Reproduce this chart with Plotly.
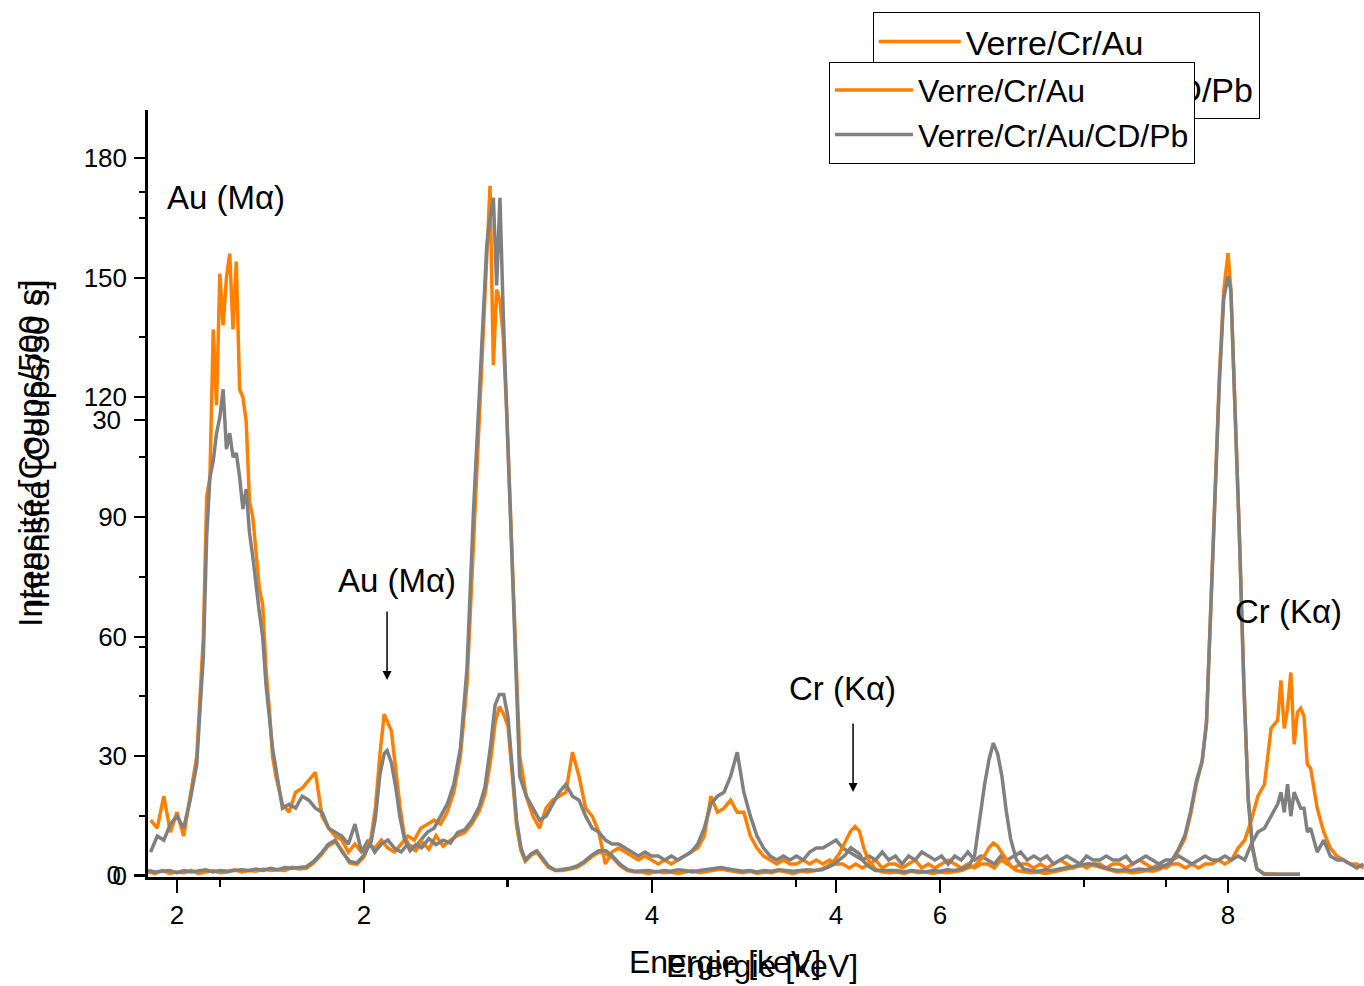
import plotly.graph_objects as go

# ---------------- data: spectrum 1 (x axis 1.9-5.6 keV, y 0-190) ----------------
h_energy = [1.92, 1.94, 1.96, 1.98, 2.00, 2.02, 2.04,
            2.06, 2.07, 2.08, 2.09, 2.10, 2.11, 2.12, 2.13, 2.14, 2.15, 2.16, 2.17, 2.18, 2.19, 2.20,
            2.21, 2.22, 2.23, 2.24, 2.25, 2.26, 2.27, 2.28, 2.29, 2.30,
            2.32, 2.34, 2.36, 2.38, 2.40, 2.42, 2.44, 2.46, 2.48, 2.50, 2.52, 2.54, 2.56, 2.58, 2.60, 2.62,
            2.64, 2.66, 2.68, 2.70, 2.72, 2.74, 2.76, 2.78, 2.80, 2.82, 2.84, 2.86, 2.88, 2.90, 2.92, 2.94,
            2.95, 2.96, 2.97, 2.98, 2.99, 3.00,
            3.02, 3.04, 3.06, 3.08, 3.10, 3.12, 3.14, 3.16, 3.18, 3.20,
            3.22, 3.24, 3.26, 3.28, 3.30, 3.32, 3.34, 3.36, 3.38, 3.40,
            3.42, 3.44, 3.46, 3.48, 3.50, 3.52, 3.54, 3.56, 3.58, 3.60,
            3.62, 3.64, 3.66, 3.68, 3.70, 3.72, 3.74, 3.76, 3.78, 3.80,
            3.82, 3.84, 3.86, 3.88, 3.90, 3.92, 3.94, 3.96, 3.98, 4.00,
            4.02, 4.04, 4.06, 4.08, 4.10, 4.12, 4.14, 4.16, 4.18, 4.20,
            4.22, 4.24, 4.26, 4.28, 4.30, 4.32, 4.34, 4.36, 4.38, 4.40,
            4.42, 4.44, 4.46, 4.48, 4.50, 4.52, 4.54, 4.56, 4.58, 4.60,
            4.62, 4.64, 4.66, 4.68, 4.70, 4.72, 4.74, 4.76, 4.78, 4.80,
            4.82, 4.84, 4.86, 4.88, 4.90, 4.92, 4.94, 4.96, 4.98, 5.00,
            5.02, 5.04, 5.06, 5.08, 5.10, 5.12, 5.14, 5.16, 5.18, 5.20,
            5.22, 5.24, 5.26, 5.28, 5.30, 5.32, 5.34,
            5.35, 5.36, 5.37, 5.38, 5.39, 5.40, 5.41, 5.42, 5.43, 5.44,
            5.46, 5.48, 5.50, 5.52, 5.54, 5.56, 5.58, 5.60]

h_orange = [14, 12, 20, 11, 16, 10, 20,
            30, 45, 60, 95, 100, 137, 118, 151, 138, 150, 156, 137, 154, 122, 120,
            114, 94, 90, 82, 72, 68, 52, 42, 30, 25,
            18, 16, 21, 22, 24, 26, 15, 12, 10, 9, 6, 8, 6, 8, 7, 9,
            7, 6, 8, 10, 9, 12, 13, 14, 13, 16, 21, 30, 48, 85, 122, 158,
            173, 128, 147, 144, 135, 117,
            72, 30, 20, 15, 12, 17, 19, 20, 21, 31,
            25, 17, 15, 11, 3, 6, 7, 6, 5, 4,
            5, 4, 3, 4, 3, 4, 5, 6, 7, 10,
            20, 16, 17, 19, 16, 16, 10, 7, 5, 4,
            3, 4, 3, 3, 4, 3, 4, 3, 4, 3,
            3, 2, 3, 2, 3, 4, 2, 3, 3, 2,
            3, 4, 2, 3, 2, 3, 4, 3, 2, 3,
            2, 3, 3, 2, 4, 3, 2, 3, 3, 2,
            3, 2, 3, 4, 3, 2, 3, 2, 3, 3,
            2, 3, 3, 2, 3, 4, 3, 2, 3, 2,
            3, 3, 2, 3, 2, 3, 3, 4, 3, 4,
            7, 9, 14, 20, 23, 37, 39,
            49, 37, 42, 51, 33, 41, 42, 40, 28, 27,
            17, 11, 7, 5, 4, 3, 3, 2]

h_gray = [6, 10, 9, 13, 15, 12, 19,
          28, 42, 55, 85, 100, 104, 111, 115, 122, 107, 111, 105, 106, 100, 92,
          97, 86, 80, 72, 66, 60, 48, 40, 32, 27,
          17, 18, 17, 20, 19, 17, 16, 12, 11, 10, 8, 13, 6, 9, 6, 8,
          9, 7, 6, 8, 7, 9, 11, 12, 15, 18, 23, 32, 52, 92, 125, 158,
          165, 170, 148, 170, 141, 117,
          70, 25, 20, 17, 14, 15, 18, 21, 23, 20,
          19, 15, 12, 11, 9, 8, 8, 7, 6, 5,
          6, 5, 5, 4, 5, 4, 5, 6, 8, 12,
          18, 20, 21, 25, 31, 21, 15, 10, 7, 5,
          4, 5, 4, 5, 4, 6, 7, 7, 8, 9,
          7, 6, 5, 4, 5, 4, 6, 4, 5, 3,
          5, 4, 6, 5, 4, 5, 3, 5, 4, 6,
          4, 5, 4, 3, 5, 4, 5, 6, 4, 5,
          4, 5, 3, 4, 5, 4, 3, 5, 4, 4,
          5, 4, 4, 5, 3, 4, 5, 4, 3, 4,
          4, 5, 4, 3, 4, 5, 4, 4, 5, 4,
          5, 4, 8, 11, 12, 15, 18,
          21, 16, 23, 15, 21, 19, 17, 17, 11, 12,
          6, 9, 5, 4, 4, 3, 2, 3]

# ---------------- data: spectrum 2 (x axis 0.5-8.9 keV, y 0-50) ----------------
l_energy = [0.50, 0.55, 0.60, 0.65, 0.70, 0.75, 0.80, 0.85, 0.90, 0.95, 1.00, 1.05,
            1.10, 1.15, 1.20, 1.25, 1.30, 1.35, 1.40, 1.45, 1.50, 1.55, 1.60,
            1.65, 1.70, 1.75, 1.80, 1.85, 1.90, 1.95, 2.00,
            2.05, 2.08, 2.11, 2.14, 2.16, 2.19, 2.22, 2.25, 2.28,
            2.32, 2.36, 2.40, 2.45, 2.50, 2.55, 2.60, 2.65, 2.70, 2.75, 2.80,
            2.84, 2.88, 2.91, 2.94, 2.97, 3.00, 3.03, 3.06, 3.09, 3.12,
            3.16, 3.20, 3.24, 3.28, 3.33, 3.38, 3.43, 3.48, 3.53, 3.58,
            3.63, 3.68, 3.73, 3.78, 3.83, 3.88,
            3.93, 3.98, 4.03, 4.08, 4.13, 4.18, 4.23, 4.28, 4.33, 4.38, 4.43, 4.48, 4.53,
            4.58, 4.63, 4.68, 4.73, 4.78, 4.83, 4.88, 4.93, 4.98, 5.03, 5.08, 5.13,
            5.18, 5.22, 5.26, 5.30, 5.34, 5.38, 5.41, 5.44, 5.47, 5.50, 5.55, 5.60,
            5.65, 5.70, 5.75, 5.80, 5.85, 5.90, 5.95, 6.00, 6.05, 6.10, 6.15,
            6.20, 6.24, 6.28, 6.31, 6.34, 6.37, 6.40, 6.43, 6.46, 6.49, 6.53, 6.58,
            6.63, 6.68, 6.73, 6.78, 6.83, 6.88, 6.93, 6.98, 7.03, 7.08, 7.13, 7.18,
            7.23, 7.28, 7.33, 7.38, 7.43, 7.48, 7.53,
            7.60, 7.65, 7.70, 7.74, 7.78, 7.82, 7.85, 7.88, 7.91, 7.94, 7.97, 8.00,
            8.02, 8.05, 8.08, 8.11, 8.14, 8.17, 8.20, 8.25, 8.30, 8.35, 8.40, 8.45, 8.50]

l_orange = [0.2, 0.1, 0.3, 0.1, 0.2, 0.15, 0.3, 0.1, 0.2, 0.3, 0.15, 0.2,
            0.35, 0.2, 0.3, 0.25, 0.4, 0.3, 0.35, 0.3, 0.5, 0.4, 0.45,
            0.8, 1.3, 1.9, 2.2, 1.6, 0.8, 0.7, 1.2,
            2.5, 4.5, 7.9, 10.6, 10.2, 9.5, 7.0, 4.5, 2.6,
            1.8, 1.6, 2.2, 1.7, 2.6, 1.9, 2.3, 2.6, 2.8, 3.4, 4.2,
            5.3, 7.6, 10.0, 11.1, 10.6, 9.8, 6.5, 3.2, 1.6, 0.9,
            1.3, 1.5, 1.0, 0.5, 0.3, 0.3, 0.4, 0.5, 0.8, 1.2,
            1.5, 1.4, 1.1, 0.6, 0.3, 0.2,
            0.2, 0.1, 0.25, 0.15, 0.2, 0.1, 0.2, 0.3, 0.15, 0.25, 0.35, 0.4, 0.3,
            0.2, 0.15, 0.25, 0.1, 0.2, 0.15, 0.3, 0.2, 0.1, 0.25, 0.2, 0.3,
            0.4, 0.6, 0.9, 1.4, 2.1, 2.9, 3.2, 2.9, 1.8, 1.0, 0.4, 0.2,
            0.15, 0.2, 0.1, 0.25, 0.15, 0.2, 0.1, 0.2, 0.15, 0.25, 0.3,
            0.5, 0.6, 1.0, 1.3, 1.8, 2.1, 1.9, 1.5, 1.0, 0.6, 0.3, 0.2,
            0.15, 0.2, 0.1, 0.2, 0.3, 0.35, 0.5, 0.6, 0.7, 0.6, 0.45, 0.3,
            0.2, 0.25, 0.15, 0.2, 0.3, 0.25, 0.4,
            0.8, 1.5, 2.4, 4.0, 6.0, 7.5, 10.0, 18.0, 26.0, 33.0, 38.5, 41.0,
            38.5, 31.0, 22.0, 12.5, 5.0, 1.8, 0.4, 0.1, 0.05, 0.05, 0.05, 0.05, 0.05]

l_gray = [0.3, 0.2, 0.25, 0.3, 0.15, 0.3, 0.2, 0.25, 0.35, 0.2, 0.3, 0.25,
          0.3, 0.35, 0.3, 0.4, 0.3, 0.45, 0.35, 0.5, 0.45, 0.5, 0.55,
          0.9, 1.4, 2.0, 2.3, 1.5, 0.9, 0.8, 1.3,
          2.2, 3.8, 6.6, 8.0, 8.2, 7.4, 5.8, 3.8, 2.4,
          1.6, 2.0, 1.8, 2.4, 2.0, 2.3, 2.1, 2.8, 3.0, 3.6, 4.5,
          5.8, 8.6, 11.2, 11.9, 11.9, 10.4, 7.0, 3.6, 1.8, 1.0,
          1.4, 1.6, 1.1, 0.6, 0.3, 0.35, 0.45, 0.6, 0.9, 1.3,
          1.6, 1.6, 1.2, 0.7, 0.35, 0.25,
          0.25, 0.3, 0.2, 0.3, 0.25, 0.35, 0.3, 0.2, 0.3, 0.35, 0.45, 0.5, 0.4,
          0.3, 0.25, 0.3, 0.2, 0.3, 0.25, 0.35, 0.3, 0.25, 0.3, 0.35, 0.3,
          0.35, 0.5, 0.7, 1.0, 1.3, 1.8, 1.6, 1.4, 0.9, 0.6, 0.3, 0.3,
          0.25, 0.3, 0.2, 0.3, 0.25, 0.2, 0.3, 0.25, 0.35, 0.3, 0.4,
          0.6, 1.3, 4.0, 6.0, 7.6, 8.7, 8.0, 6.5, 4.2, 2.4, 1.0, 0.4,
          0.3, 0.25, 0.35, 0.3, 0.4, 0.5, 0.6, 0.7, 0.75, 0.7, 0.5, 0.4,
          0.3, 0.35, 0.3, 0.4, 0.35, 0.45, 0.5,
          0.8, 1.6, 2.6, 4.2, 6.2, 7.5, 10.0, 17.5, 25.5, 32.5, 38.0, 39.5,
          38.5, 31.0, 22.0, 12.5, 5.0, 1.8, 0.4, 0.05, 0.05, 0.05, 0.05, 0.05, 0.05]

assert len(h_energy) == len(h_orange) == len(h_gray)
assert len(l_energy) == len(l_orange) == len(l_gray)

series_names = ["Verre/Cr/Au", "Verre/Cr/Au/CD/Pb"]
x_title = "Energie [keV]"
y_titles = ["Intensité [Coups/500 s]", "Intensité [Coups/50 s]"]

FONT = "Arial, Liberation Sans, sans-serif"
ORANGE = "#FF8000"
GRAY = "#808080"
LW = 3.5

fig = go.Figure()
# spectrum 1 on (x, y)
fig.add_trace(go.Scatter(x=h_energy, y=h_orange, mode="lines", name=series_names[0],
                         line=dict(color=ORANGE, width=LW), xaxis="x", yaxis="y", legend="legend"))
fig.add_trace(go.Scatter(x=h_energy, y=h_gray, mode="lines", name=series_names[1],
                         line=dict(color=GRAY, width=LW), xaxis="x", yaxis="y", legend="legend"))
# spectrum 2 on (x2, y2), overlaid
fig.add_trace(go.Scatter(x=l_energy, y=l_orange, mode="lines", name=series_names[0],
                         line=dict(color=ORANGE, width=LW), xaxis="x2", yaxis="y2", legend="legend2"))
fig.add_trace(go.Scatter(x=l_energy, y=l_gray, mode="lines", name=series_names[1],
                         line=dict(color=GRAY, width=LW), xaxis="x2", yaxis="y2", legend="legend2"))

axis_common = dict(showline=True, linecolor="black", linewidth=2.5, ticks="outside",
                   tickcolor="black", tickwidth=2, showgrid=False, zeroline=False,
                   tickfont=dict(size=26, color="black", family=FONT))
xminor = dict(dtick=1, ticks="outside", ticklen=7, tickwidth=2, tickcolor="black")
yminor = dict(dtick=15, ticks="outside", ticklen=6, tickwidth=2, tickcolor="black")

fig.update_layout(
    width=1364, height=986,
    margin=dict(l=148, r=0, t=110, b=109),
    paper_bgcolor="white", plot_bgcolor="white",
    font=dict(family=FONT, color="black"),
    xaxis=dict(range=[1.912, 5.602], tick0=0, dtick=2, ticklen=13, minor=xminor,
               anchor="y", **axis_common),
    yaxis=dict(range=[-0.25, 192.0], tick0=0, dtick=30, ticklen=11, minor=yminor,
               anchor="x", ticklabelstandoff=2, **axis_common),
    xaxis2=dict(range=[0.5, 8.944], tick0=0, dtick=2, ticklen=13, minor=xminor,
                overlaying="x", side="bottom", anchor="y2", **axis_common),
    yaxis2=dict(range=[-0.13, 50.43], tick0=0, dtick=30, ticklen=11, minor=yminor,
                overlaying="y", side="left", anchor="x2", ticklabelstandoff=8, **axis_common),
    legend=dict(x=0.596, y=1.128, xanchor="left", yanchor="top", bgcolor="white",
                bordercolor="black", borderwidth=1, itemwidth=82,
                font=dict(size=34, family=FONT, color="black")),
    legend2=dict(x=0.56, y=1.063, xanchor="left", yanchor="top", bgcolor="white",
                 bordercolor="black", borderwidth=1, itemwidth=78,
                 font=dict(size=32, family=FONT, color="black")),
    showlegend=True,
)

ann_font = dict(size=33, family=FONT, color="black")
title_font = dict(size=32, family=FONT, color="black")
annotations = [
    # spectrum 1 labels
    dict(x=2.149, y=170, xref="x", yref="y", text="Au (Mα)", showarrow=False, font=ann_font,
         xanchor="center", yanchor="middle"),
    dict(x=5.372, y=66.2, xref="x", yref="y", text="Cr (Kα)", showarrow=False, font=ann_font,
         xanchor="center", yanchor="middle"),
    # spectrum 2 labels
    dict(x=2.229, y=19.4, xref="x2", yref="y2", text="Au (Mα)", showarrow=False, font=ann_font,
         xanchor="center", yanchor="middle"),
    dict(x=5.326, y=12.3, xref="x2", yref="y2", text="Cr (Kα)", showarrow=False, font=ann_font,
         xanchor="center", yanchor="middle"),
    # arrows
    dict(x=2.16, y=12.85, xref="x2", yref="y2", text="", showarrow=True, ax=0, ay=-70,
         arrowhead=2, arrowsize=1.2, arrowwidth=1.5, arrowcolor="black"),
    dict(x=5.396, y=5.47, xref="x2", yref="y2", text="", showarrow=True, ax=0, ay=-70,
         arrowhead=2, arrowsize=1.2, arrowwidth=1.5, arrowcolor="black"),
    # axis titles (two overlapping charts)
    dict(x=(725 - 148) / 1216, y=(877 - 962) / 767, xref="paper", yref="paper", text=x_title,
         showarrow=False, font=title_font, xanchor="center", yanchor="middle"),
    dict(x=(762 - 148) / 1216, y=(877 - 966) / 767, xref="paper", yref="paper", text=x_title,
         showarrow=False, font=title_font, xanchor="center", yanchor="middle"),
    dict(x=(30 - 148) / 1216, y=(877 - 453) / 767, xref="paper", yref="paper", text=y_titles[0],
         textangle=-90, showarrow=False, font=dict(size=34, family=FONT, color="black"),
         xanchor="center", yanchor="middle"),
    dict(x=(37 - 148) / 1216, y=(877 - 445) / 767, xref="paper", yref="paper", text=y_titles[1],
         textangle=-90, showarrow=False, font=dict(size=34, family=FONT, color="black"),
         xanchor="center", yanchor="middle"),
]
fig.update_layout(annotations=annotations)

fig.write_html("out.html")
